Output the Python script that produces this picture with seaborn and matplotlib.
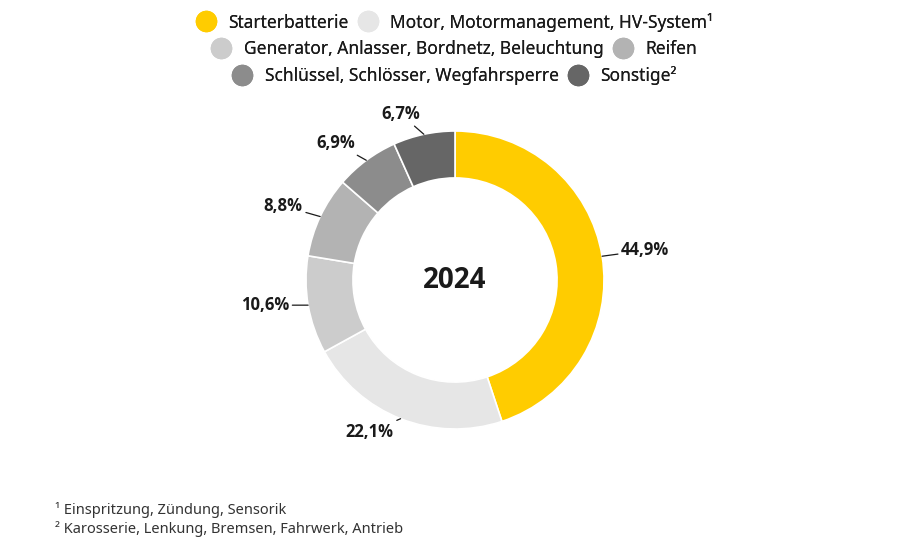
import numpy as np
import seaborn as sns
import matplotlib.pyplot as plt
from matplotlib.lines import Line2D

sns.set_theme(style='white')
plt.rcParams['font.family'] = ['Noto Sans', 'DejaVu Sans']

# data
categories = ['Starterbatterie', 'Motor, Motormanagement, HV-System¹',
              'Generator, Anlasser, Bordnetz, Beleuchtung', 'Reifen',
              'Schlüssel, Schlösser, Wegfahrsperre', 'Sonstige²']
shares = [44.9, 22.1, 10.6, 8.8, 6.9, 6.7]
labels = ['44,9%', '22,1%', '10,6%', '8,8%', '6,9%', '6,7%']
colors = ['#FFCC00', '#E6E6E6', '#CCCCCC', '#B3B3B3', '#8C8C8C', '#666666']
year = '2024'
footnotes = ['¹ Einspritzung, Zündung, Sensorik',
             '² Karosserie, Lenkung, Bremsen, Fahrwerk, Antrieb']

fig = plt.figure(figsize=(9.1, 5.48), dpi=100)
ax = fig.add_axes([255 / 910, 68 / 548, 400 / 910, 400 / 548])

wedges, _ = ax.pie(shares, colors=colors, startangle=90, counterclock=False,
                   radius=1, wedgeprops=dict(width=0.315, edgecolor='white', linewidth=1.2))
lim = 200 / 149
ax.set_xlim(-lim, lim)
ax.set_ylim(-lim, lim)
ax.set_aspect('equal')
ax.axis('off')

bold = ['Open Sans', 'DejaVu Sans']

# percentage labels with short leader lines
for w, lab in zip(wedges, labels):
    ang = np.deg2rad((w.theta1 + w.theta2) / 2)
    x, y = np.cos(ang), np.sin(ang)
    ha = 'left' if x > 0.05 else ('right' if x < -0.05 else 'center')
    ax.annotate(lab, xy=(x, y), xytext=(x * 1.13, y * 1.12 + 0.02),
                ha=ha, va='center', fontsize=12, fontweight='bold', family=bold,
                color='#1a1a1a',
                arrowprops=dict(arrowstyle='-', color='#1a1a1a', lw=0.9, shrinkA=0, shrinkB=0))

ax.text(0, 0, year, ha='center', va='center', fontsize=20, fontweight='bold',
        family=bold, color='#1a1a1a')

# legend: three centred rows of two entries each
handles = [Line2D([0], [0], marker='o', linestyle='', markersize=14.5,
                  markerfacecolor=c, markeredgecolor=c) for c in colors]
rows_y = [1 - 22 / 548, 1 - 49 / 548, 1 - 76 / 548]
for i, ry in enumerate(rows_y):
    leg = fig.legend(handles[2 * i:2 * i + 2], categories[2 * i:2 * i + 2],
                     loc='center', bbox_to_anchor=(0.5, ry), ncol=2, frameon=False,
                     fontsize=12.5, handletextpad=0.8, columnspacing=0.6,
                     handlelength=1.0, borderpad=0, labelcolor='#1a1a1a')
    fig.add_artist(leg)

for i, note in enumerate(footnotes):
    fig.text(55 / 910, 1 - (510 + 19 * i) / 548, note, ha='left', va='center',
             fontsize=10.5, color='#333333')

fig.savefig('out.png', dpi=100, facecolor='white')
